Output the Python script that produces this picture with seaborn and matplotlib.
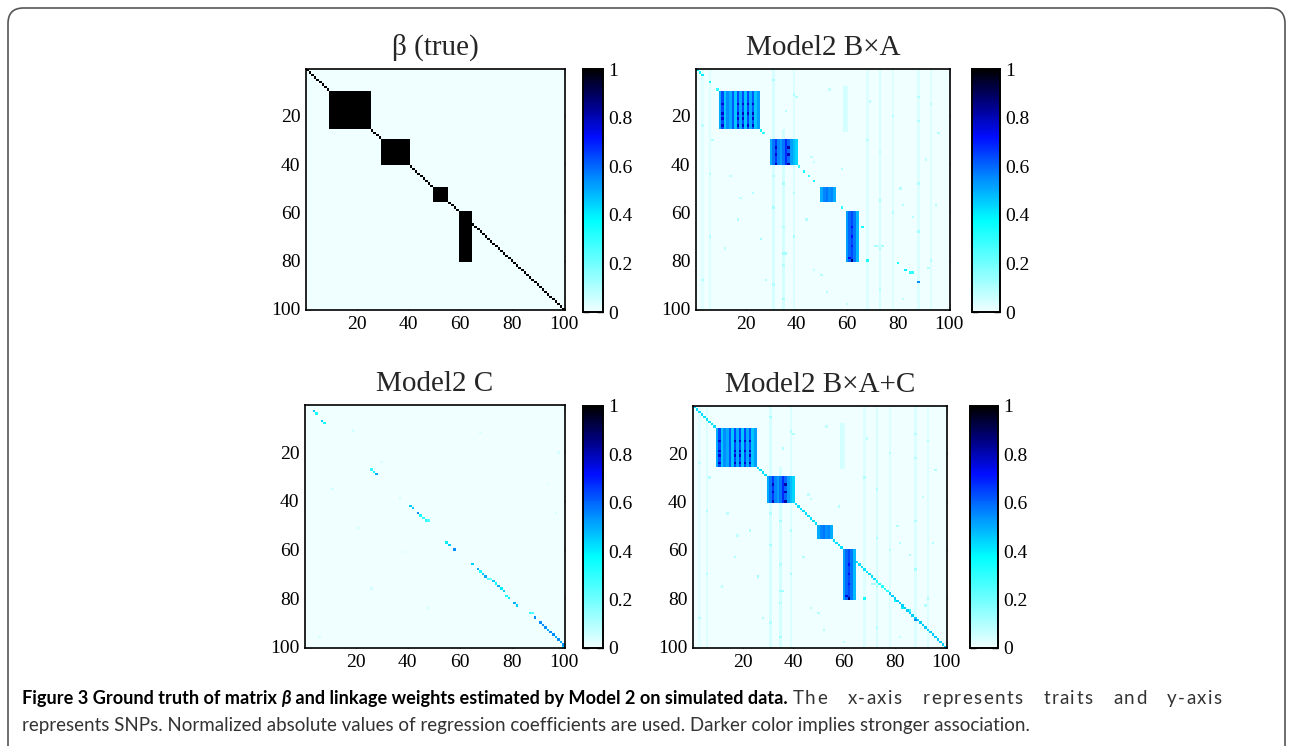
import numpy as np
import matplotlib
matplotlib.use("Agg")
import matplotlib.pyplot as plt
import seaborn as sns
from matplotlib.colors import LinearSegmentedColormap
from matplotlib.patches import FancyBboxPatch

# ---------------- data ----------------
N = 100
tick_values = [20, 40, 60, 80, 100]
cbar_ticks = [0, 0.2, 0.4, 0.6, 0.8, 1]
cbar_labels = ["0", "0.2", "0.4", "0.6", "0.8", "1"]
titles = ["\u03b2 (true)", "Model2 B\u00d7A", "Model2 C", "Model2 B\u00d7A+C"]

# blocks: (row_start, row_end, col_start, col_end) 1-based inclusive
blocks = [(10, 25, 10, 25), (30, 40, 30, 40), (50, 55, 50, 55), (60, 80, 60, 64)]
true_value = 1.0

# estimated block column profiles (B x A)
block1_cols = [0.50, 0.64, 0.46, 0.55, 0.50, 0.62, 0.46, 0.64, 0.50, 0.64, 0.46, 0.64, 0.50, 0.62, 0.46, 0.52]
block2_cols = [0.50, 0.58, 0.66, 0.56, 0.52, 0.58, 0.68, 0.60, 0.52, 0.48, 0.44]
block3_cols = [0.50, 0.56, 0.58, 0.54, 0.56, 0.50]
block4_cols = [0.52, 0.60, 0.64, 0.58, 0.48]
block_profiles = [block1_cols, block2_cols, block3_cols, block4_cols]

# darker dots inside blocks (row, col, value)
block_dots = [(15, 11, .78), (19, 11, .78), (21, 11, .76), (24, 11, .78),
              (15, 17, .8), (19, 17, .78), (21, 17, .78), (24, 17, .8),
              (15, 19, .78), (19, 19, .8), (21, 19, .78), (24, 19, .78),
              (15, 21, .78), (19, 21, .78), (24, 21, .78),
              (15, 23, .78), (19, 23, .8), (21, 23, .78), (24, 23, .8),
              (33, 32, .8), (36, 32, .78), (40, 32, .8),
              (33, 37, .82), (36, 37, .8), (40, 37, .82),
              (66, 62, .72), (70, 62, .72), (74, 62, .7), (79, 61, .74), (80, 62, .86)]

# B x A off-block points (row, col, value)
bxa_points = [(1, 1, .4), (2, 2, .35), (3, 3, .4), (6, 6, .35), (9, 9, .3),
              (26, 26, .35), (27, 27, .3), (41, 41, .3), (43, 43, .35), (45, 45, .3),
              (47, 47, .35), (58, 58, .3), (66, 66, .35), (80, 68, .35),
              (74, 71, .12), (74, 72, .1), (74, 74, .12), (81, 80, .35), (84, 83, .4),
              (85, 85, .3), (85, 86, .3), (89, 88, .55)]

# faint vertical stripes (col, row_start, row_end, value)
stripes = [(3, 1, 100, .025), (6, 1, 100, .03), (31, 1, 100, .04), (35, 26, 100, .045),
           (39, 1, 100, .035), (59, 8, 26, .05), (60, 8, 26, .04), (68, 1, 100, .03),
           (73, 1, 100, .04), (78, 1, 100, .03), (88, 1, 100, .035), (93, 1, 100, .03)]

# scattered faint points (row, col, value)
faint_points = [(12, 40, .1), (30, 7, .1), (45, 14, .08), (52, 23, .1), (63, 17, .1),
                (71, 26, .12), (77, 35, .12), (77, 36, .12), (88, 28, .1), (93, 52, .1),
                (20, 78, .1), (22, 88, .1), (38, 91, .08), (50, 81, .1), (57, 95, .1),
                (83, 92, .1), (96, 82, .08), (14, 69, .08), (27, 96, .1), (63, 44, .1),
                (84, 47, .08), (42, 58, .1), (9, 53, .08), (18, 36, .1),
                (5, 31, .12), (45, 31, .1), (58, 31, .12), (90, 31, .1), (33, 35, .1),
                (48, 35, .12), (66, 35, .1), (82, 35, .1), (96, 35, .12), (11, 39, .1),
                (52, 39, .1), (70, 39, .12), (35, 73, .1), (55, 73, .12), (75, 73, .1),
                (92, 73, .1), (12, 88, .1), (48, 88, .1), (68, 88, .12), (80, 93, .1),
                (15, 93, .1), (60, 78, .1), (30, 68, .1), (44, 6, .1), (70, 6, .1),
                (88, 3, .1), (24, 3, .08), (37, 46, .08), (39, 47, .08), (57, 82, .1),
                (62, 86, .1), (86, 50, .1), (98, 60, .08), (54, 18, .08), (75, 12, .08)]

# Model2 C diagonal-ish points (row, col, value)
c_points = [(4, 5, .35), (3, 4, .45), (7, 7, .45), (8, 8, .35), (27, 26, .3), (28, 27, .35),
            (29, 28, .5), (42, 41, .45), (43, 42, .45), (45, 44, .55), (46, 45, .35),
            (47, 46, .3), (48, 47, .3), (48, 48, .25), (57, 55, .4), (58, 56, .45),
            (60, 58, .55), (66, 65, .45), (68, 67, .5), (69, 68, .35), (70, 69, .45),
            (71, 70, .5), (72, 71, .25), (72, 72, .2), (73, 73, .45), (74, 74, .35),
            (75, 75, .5), (76, 76, .4), (77, 77, .45), (79, 78, .35), (80, 79, .4),
            (82, 81, .5), (83, 82, .45), (86, 87, .3), (86, 88, .25), (88, 89, .55),
            (90, 91, .55), (91, 92, .55), (92, 93, .55), (93, 94, .5), (94, 95, .55),
            (95, 96, .55), (96, 97, .5), (97, 98, .55), (98, 99, .5), (99, 100, .55),
            (100, 100, .45)]
c_faint = [(11, 19, .05), (24, 30, .04), (35, 11, .05), (51, 21, .05), (76, 26, .05),
           (96, 6, .05), (45, 97, .04), (20, 98, .04), (61, 38, .03), (12, 68, .03),
           (39, 37, .04), (84, 48, .05), (33, 94, .03)]

# Model2 B x A + C diagonal segments (start, end, value)
bxac_diag = [(1, 72, .42), (73, 77, .32), (78, 100, .45)]

# caption
caption_bold = [("Figure 3 Ground truth of matrix ", "normal"), ("\u03b2", "italic"),
                (" and linkage weights estimated by Model 2 on simulated data.", "normal")]
caption_rest1 = "The x-axis represents traits and y-axis"
caption_line2 = ("represents SNPs. Normalized absolute values of regression coefficients "
                 "are used. Darker color implies stronger association.")

# ---------------- build matrices ----------------
beta = np.zeros((N, N))
for r in range(N):
    beta[r, r] = true_value
for (r0, r1, c0, c1) in blocks:
    beta[r0 - 1:r1, c0 - 1:c1] = true_value

bxa = np.zeros((N, N))
for (c, r0, r1, v) in stripes:
    bxa[r0 - 1:r1, c - 1] = v
for (r, c, v) in faint_points:
    bxa[r - 1, c - 1] = v
for (r0, r1, c0, c1), prof in zip(blocks, block_profiles):
    bxa[r0 - 1:r1, c0 - 1:c1] = prof
for (r, c, v) in block_dots:
    bxa[r - 1, c - 1] = v
for (r, c, v) in bxa_points:
    bxa[r - 1, c - 1] = v

cmat = np.zeros((N, N))
for (r, c, v) in c_faint:
    cmat[r - 1, c - 1] = v
for (r, c, v) in c_points:
    cmat[r - 1, c - 1] = v

bxac = bxa.copy()
for (a, b, v) in bxac_diag:
    for i in range(a - 1, b):
        bxac[i, i] = max(bxac[i, i], v)

mats = [beta, bxa, cmat, bxac]

# ---------------- style ----------------
sns.set_style("white")
plt.rcParams["font.family"] = ["Liberation Serif", "DejaVu Serif"]

cmap = LinearSegmentedColormap.from_list(
    "icejet",
    [(0.0, (0.94, 1.0, 1.0)), (0.375, (0.0, 1.0, 1.0)), (0.55, (0.0, 0.55, 1.0)),
     (0.72, (0.0, 0.05, 1.0)), (0.86, (0.0, 0.0, 0.5)), (1.0, (0.0, 0.0, 0.0))])

W, H = 1292, 746
fig = plt.figure(figsize=(W / 100, H / 100), dpi=100)


def rect(l, t, r, b):
    return [l / W, 1 - b / H, (r - l) / W, (b - t) / H]


ax_rects = [rect(306, 69, 565, 310), rect(696, 69, 950, 310),
            rect(305, 405, 565, 648), rect(693, 406, 947, 648)]
cb_rects = [rect(583, 69, 603, 312), rect(972, 69, 1000, 312),
            rect(583, 406, 603, 648), rect(970, 406, 998, 648)]

for k in range(4):
    ax = fig.add_axes(ax_rects[k])
    cax = fig.add_axes(cb_rects[k])
    sns.heatmap(mats[k], ax=ax, cbar_ax=cax, cmap=cmap, vmin=0, vmax=1,
                xticklabels=False, yticklabels=False, rasterized=True)
    pos = [v - 0.5 for v in tick_values]
    ax.set_xticks(pos)
    ax.set_xticklabels([str(v) for v in tick_values], fontsize=14)
    ax.set_yticks(pos)
    ax.set_yticklabels([str(v) for v in tick_values], fontsize=14, rotation=0)
    ax.tick_params(direction="in", length=5, width=1, top=True, right=True,
                   bottom=True, left=True, pad=4, colors="black")
    for s in ax.spines.values():
        s.set_visible(True)
        s.set_linewidth(1.2)
        s.set_color("black")
    ax.set_title(titles[k], fontsize=21, pad=10)
    cax.set_yticks(cbar_ticks)
    cax.set_yticklabels(cbar_labels, fontsize=14)
    cax.tick_params(direction="in", length=4, width=1, right=True, left=True, colors="black")
    for s in cax.spines.values():
        s.set_visible(True)
        s.set_linewidth(1.2)
        s.set_color("black")
    cb = ax.collections[0].colorbar
    cb.outline.set_visible(True)
    cb.outline.set_linewidth(1.2)
    cb.outline.set_edgecolor("black")

# frame
frame = FancyBboxPatch((8 / W, -0.1), (1285 - 8) / W, 1.1 - 8 / H,
                       boxstyle="round,pad=0,rounding_size=0.012",
                       transform=fig.transFigure, fill=False, edgecolor="#555555",
                       linewidth=1.2, mutation_aspect=W / H)
fig.patches.append(frame)

# caption (layout fitted to the reference line widths)
cap_font = ["Lato", "DejaVu Sans"]
renderer = fig.canvas.get_renderer()
x_left, line1_end, line2_end = 22, 1222, 1030


def width_of(txt, size, weight="normal", style="normal"):
    if txt == "":
        return 0.0
    t = fig.text(0, 0, txt + "|", fontsize=size, fontweight=weight, fontstyle=style,
                 family=cap_font)
    w = t.get_window_extent(renderer=renderer).width
    t.set_text("|")
    w -= t.get_window_extent(renderer=renderer).width
    t.remove()
    return w


fs_norm = 10 * (line2_end - x_left) / width_of(caption_line2, 10)
fs_bold = fs_norm * 0.97

y1 = 1 - 704 / H
x = x_left
for s, st in caption_bold:
    fig.text(x / W, y1, s, fontsize=fs_bold, fontweight="bold", fontstyle=st,
             family=cap_font, color="black", va="baseline", ha="left")
    x += width_of(s, fs_bold, "bold", st)
x += width_of(" ", fs_norm)

# justified remainder of line 1: extra room shared by letter tracking and word gaps
rest = caption_rest1
natural = width_of(rest, fs_norm) - width_of(rest[-1], fs_norm)
target = line1_end - width_of(rest[-1], fs_norm) - x
extra = max(0.0, target - natural)
n_sp = rest.count(" ")
n_ch = len(rest) - 1
per_space = 0.55 * extra / n_sp
per_char = 0.45 * extra / n_ch
spaces_seen = 0
for i, ch in enumerate(rest):
    if ch == " ":
        spaces_seen += 1
        continue
    xi = x + width_of(rest[:i], fs_norm) + per_space * spaces_seen + per_char * i
    fig.text(xi / W, y1, ch, fontsize=fs_norm, family=cap_font, color="#333333",
             va="baseline", ha="left")

fig.text(x_left / W, 1 - 731 / H, caption_line2, fontsize=fs_norm, family=cap_font,
         color="#333333", va="baseline", ha="left")

fig.savefig("out.png", dpi=100)
